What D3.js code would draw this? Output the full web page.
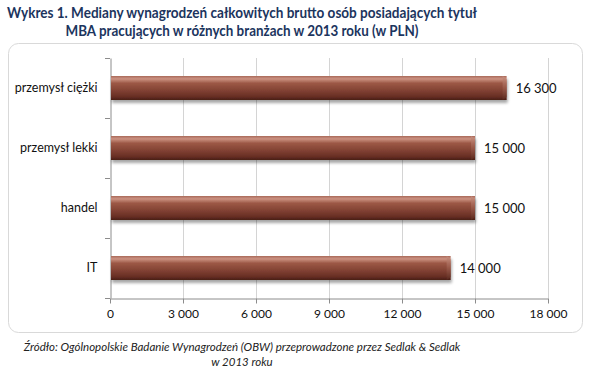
<!DOCTYPE html>
<html><head><meta charset="utf-8">
<script src="https://cdn.jsdelivr.net/npm/d3@7"></script>
<style>
html,body{margin:0;padding:0;background:#fff;}
svg{display:block;}
</style></head>
<body>
<svg id="chart" width="595" height="381"></svg>
<script>
const titleLines = ["Wykres 1. Mediany wynagrodzeń całkowitych brutto osób posiadających tytuł",
                    "MBA pracujących w różnych branżach w 2013 roku (w PLN)"];
const sourceLines = ["Źródło: Ogólnopolskie Badanie Wynagrodzeń (OBW) przeprowadzone przez Sedlak & Sedlak",
                     "w 2013 roku"];
const categories = ["przemysł ciężki", "przemysł lekki", "handel", "IT"];
const values = [16300, 15000, 15000, 14000];
const xTicks = [0, 3000, 6000, 9000, 12000, 15000, 18000];

const svg = d3.select("#chart");
const font = "Lato, 'Open Sans', sans-serif";
const fmtSp = v => d3.format(",")(v).replace(/,/g, " ");

// gradient
const defs = svg.append("defs");
const g1 = defs.append("linearGradient").attr("id","barGrad").attr("x1",0).attr("y1",0).attr("x2",0).attr("y2",1);
[[0,"#a96a5a"],[0.12,"#cc9282"],[0.3,"#9c5846"],[0.6,"#824234"],[0.85,"#682e24"],[1,"#4a1e16"]]
  .forEach(([o,c])=>g1.append("stop").attr("offset",o).attr("stop-color",c));
const gEnd = defs.append("linearGradient").attr("id","endGrad").attr("x1",0).attr("y1",0).attr("x2",0).attr("y2",1);
[[0,"#c89080"],[0.5,"#9a5a4a"],[1,"#5a2a20"]].forEach(([o,c])=>gEnd.append("stop").attr("offset",o).attr("stop-color",c));
const flt = defs.append("filter").attr("id","shadow").attr("x","-5%").attr("y","-20%").attr("width","110%").attr("height","160%");
flt.append("feGaussianBlur").attr("in","SourceAlpha").attr("stdDeviation",1.6);
flt.append("feOffset").attr("dx",1).attr("dy",2.5).attr("result","b");
flt.append("feComponentTransfer").append("feFuncA").attr("type","linear").attr("slope",0.35);
const m = flt.append("feMerge"); m.append("feMergeNode"); m.append("feMergeNode").attr("in","SourceGraphic");

// title
const titleLen = [470, 353];
svg.append("g").selectAll("text").data(titleLines).join("text")
  .attr("x", 242).attr("y",(d,i)=>18+i*18).attr("text-anchor","middle")
  .attr("font-family",font).attr("font-weight","bold").attr("font-size",15)
  .attr("textLength",(d,i)=>titleLen[i]).attr("lengthAdjust","spacingAndGlyphs")
  .attr("fill","#1c355e").text(d=>d);

// chart box
svg.append("rect").attr("x",8.5).attr("y",43.5).attr("width",574).attr("height",289)
  .attr("rx",10).attr("fill","#fff").attr("stroke","#d9d9d9");

const x = d3.scaleLinear().domain([0,18000]).range([110,548]);
const y = d3.scaleBand().domain(categories).range([58,298]).paddingInner(0.6).paddingOuter(0.3);
const yb = d3.scaleBand().domain(categories).range([58,298]);

// grid
svg.append("g").selectAll("line").data(xTicks.slice(1)).join("line")
  .attr("x1",d=>Math.round(x(d))+0.5).attr("x2",d=>Math.round(x(d))+0.5)
  .attr("y1",58).attr("y2",298).attr("stroke","#d4d4d4");

// x axis
const xAxis = svg.append("g").attr("transform","translate(0,298.5)")
  .call(d3.axisBottom(x).tickValues(xTicks).tickSize(5).tickSizeOuter(0).tickPadding(6).tickFormat(fmtSp));
xAxis.select(".domain").attr("stroke","#8c8c8c");
xAxis.selectAll(".tick line").attr("stroke","#8c8c8c");
xAxis.selectAll("text").attr("font-family",font).attr("font-size",12).attr("fill","#111");

// y axis
const yAxis = svg.append("g").attr("transform","translate(110.5,0)")
  .call(d3.axisLeft(yb).tickSize(0).tickPadding(13));
yAxis.select(".domain").attr("stroke","#8c8c8c");
yAxis.selectAll("text").attr("font-family",font).attr("font-size",12.5).attr("fill","#111");
svg.append("g").selectAll("line").data(categories.map(c=>yb(c)).concat([298])).join("line")
  .attr("x1",105).attr("x2",110).attr("y1",d=>Math.round(d)+0.5).attr("y2",d=>Math.round(d)+0.5)
  .attr("stroke","#8c8c8c");

// bars
const bars = svg.append("g").selectAll("g").data(categories).join("g").attr("filter","url(#shadow)");
bars.append("rect").attr("x",x(0)+1).attr("y",d=>y(d)).attr("height",y.bandwidth())
  .attr("width",(d,i)=>x(values[i])-x(0)-1).attr("fill","url(#barGrad)");
bars.append("path").attr("d",(d,i)=>{
  const xe = x(values[i]), y0 = y(d), h = y.bandwidth();
  return `M${xe-4},${y0} L${xe},${y0+3} L${xe},${y0+h-3} L${xe-4},${y0+h} Z`;
}).attr("fill","url(#endGrad)").attr("opacity",0.85);

// value labels
svg.append("g").selectAll("text").data(categories).join("text")
  .attr("x",(d,i)=>x(values[i])+9).attr("y",d=>y(d)+y.bandwidth()/2).attr("dy","0.35em")
  .attr("font-family",font).attr("font-size",13).attr("fill","#111")
  .text((d,i)=>fmtSp(values[i]));

// source
svg.append("g").selectAll("text").data(sourceLines).join("text")
  .attr("x",242).attr("y",(d,i)=>351+i*15).attr("text-anchor","middle")
  .attr("font-family",font).attr("font-style","italic").attr("font-size",11.5).attr("fill","#222")
  .text(d=>d);
</script>
</body></html>
